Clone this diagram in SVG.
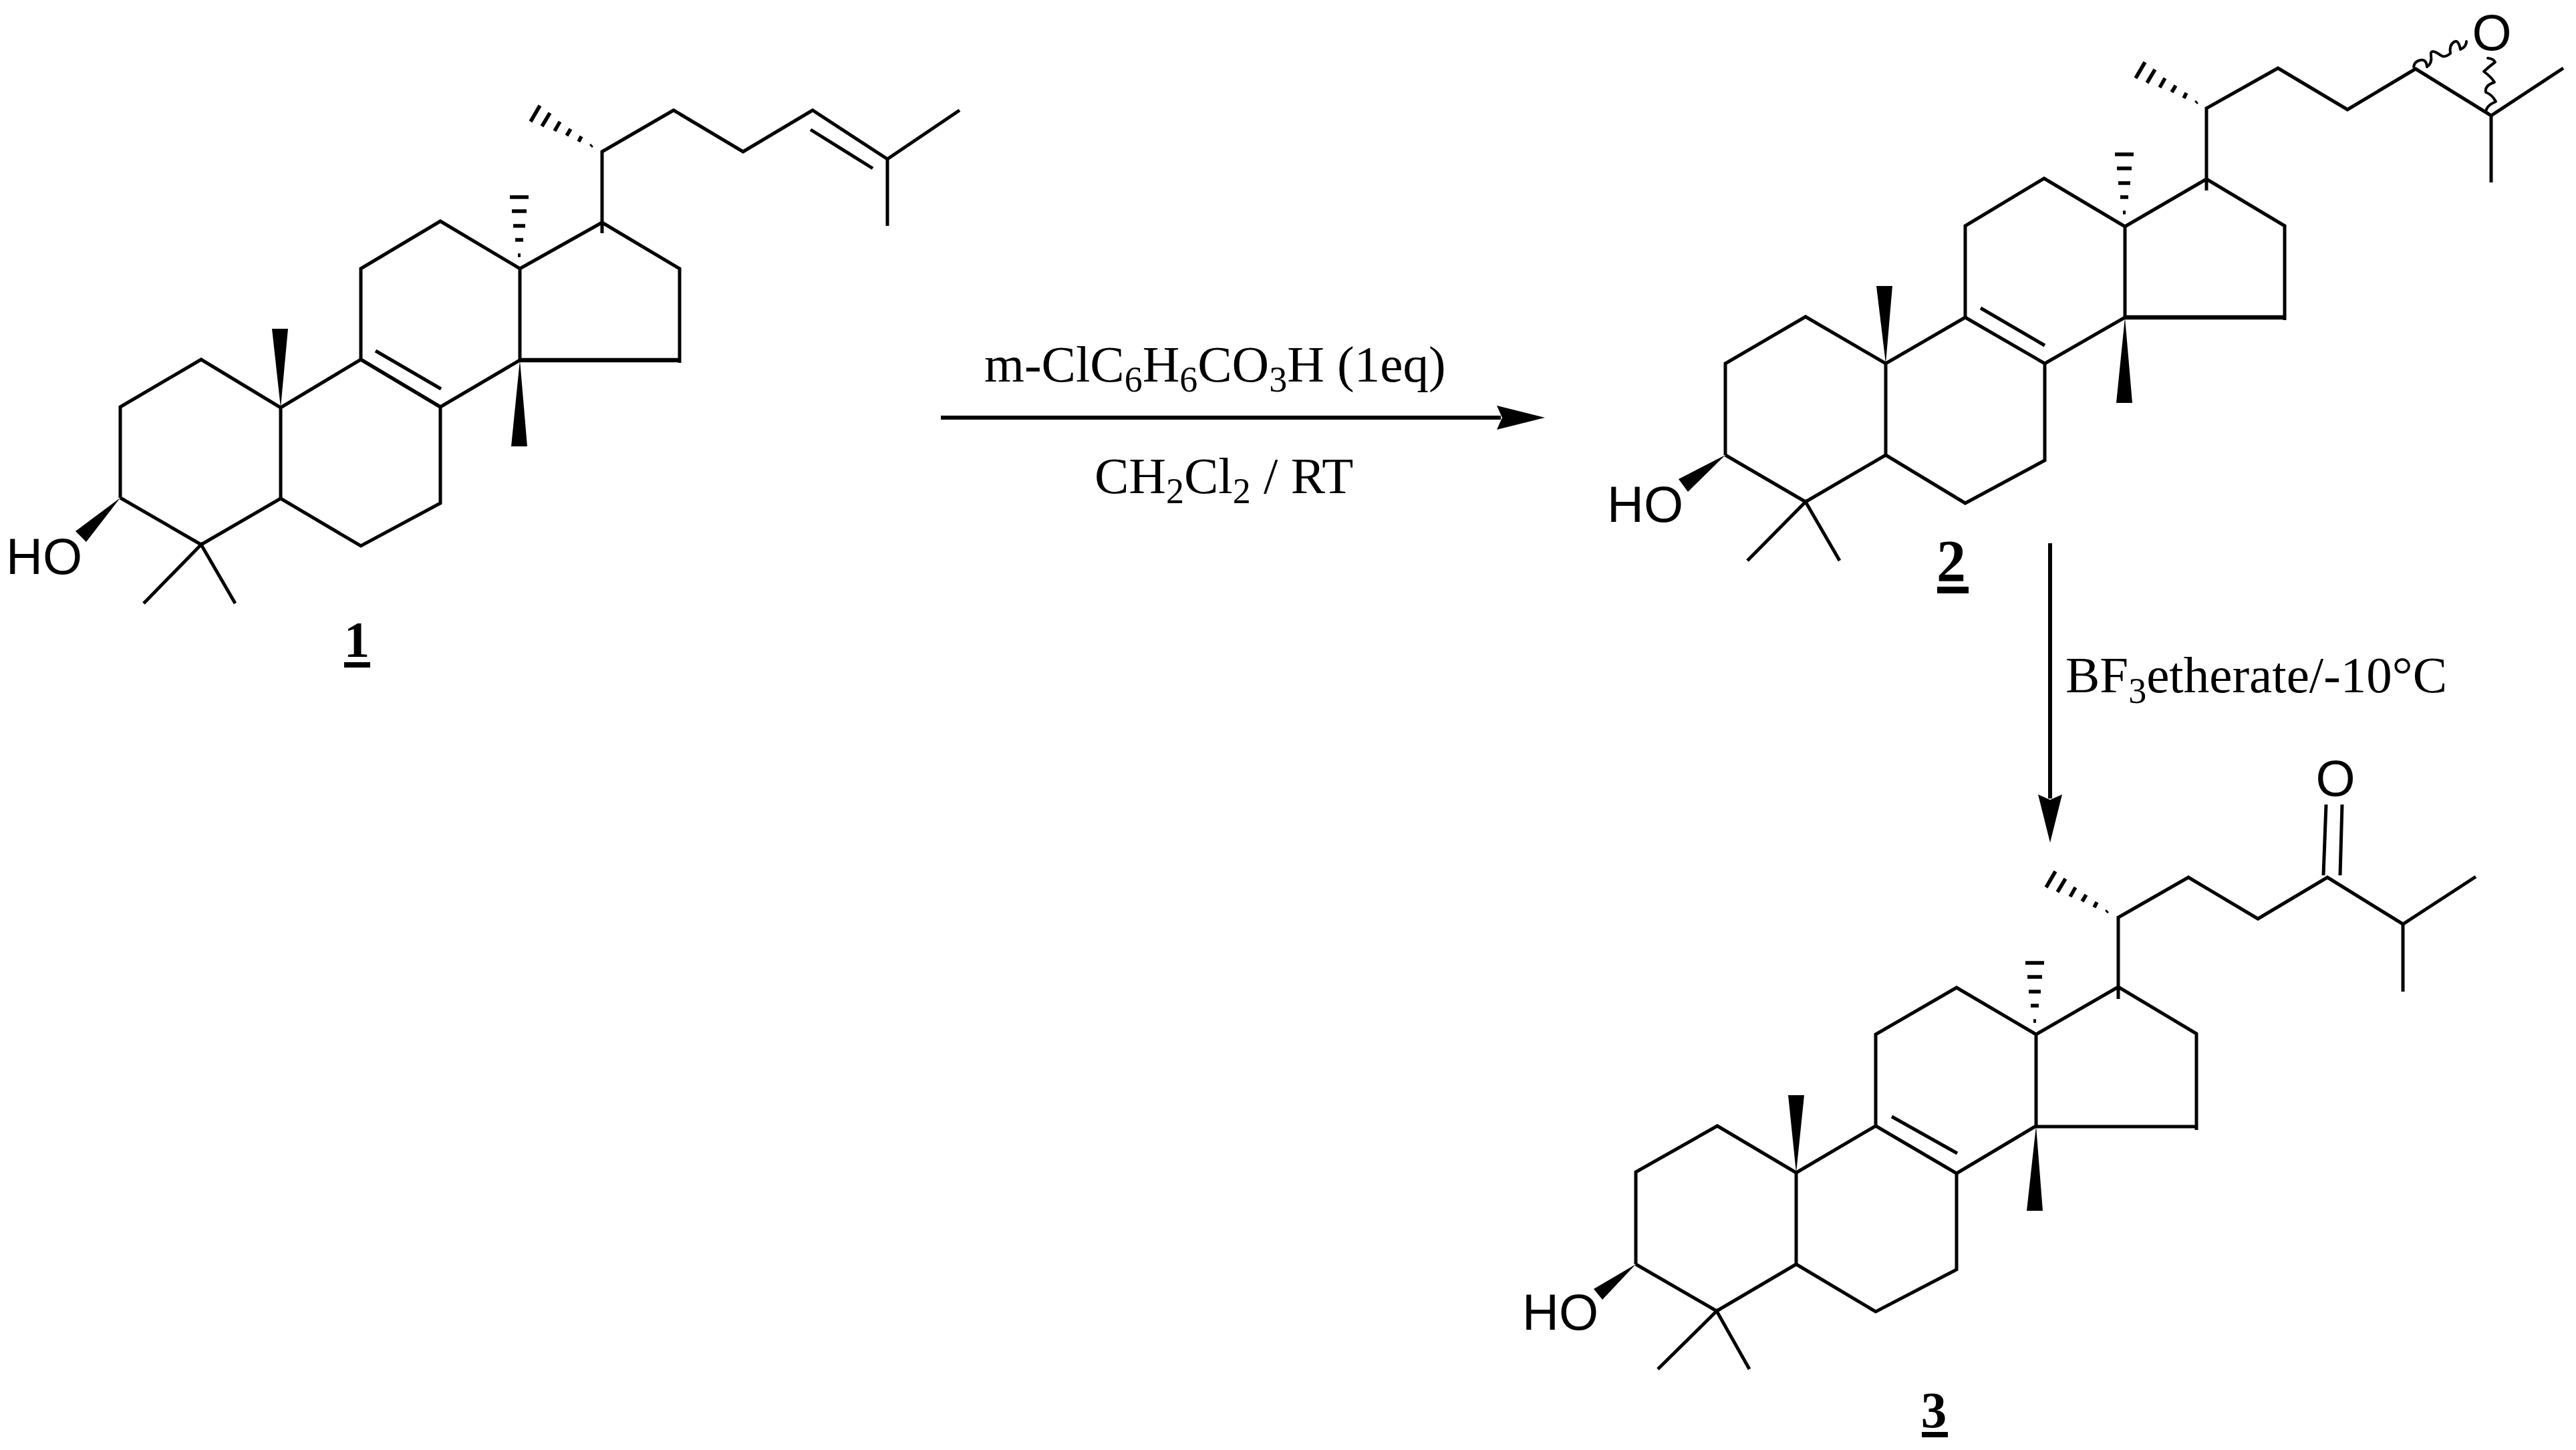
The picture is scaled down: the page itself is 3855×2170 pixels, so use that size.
<svg xmlns="http://www.w3.org/2000/svg" xmlns:xlink="http://www.w3.org/1999/xlink" width="3855" height="2170" viewBox="0 0 3855 2170">
<style>
.b{fill:none;stroke:#000;stroke-width:5;stroke-linejoin:miter;stroke-linecap:butt}
.bh{fill:none;stroke:#000;stroke-width:6.5}
.w{fill:none;stroke:#000;stroke-width:4;stroke-linejoin:round;stroke-linecap:round}
.h{stroke:#000;stroke-width:5.5}
.f{fill:#000;stroke:none}
.a{fill:none;stroke:#000;stroke-width:6}
.ul{stroke:#000;stroke-width:8}
.at{font-family:"Liberation Sans",Arial,sans-serif;font-size:76px;fill:#000}
.t{font-family:"Liberation Serif","Times New Roman",serif;font-size:77px;fill:#000}
.n{font-family:"Liberation Serif","Times New Roman",serif;font-size:77px;font-weight:bold;fill:#000;text-anchor:middle}
.s{font-size:54px}
</style>
<defs>
<marker id="ah" markerUnits="userSpaceOnUse" markerWidth="72" markerHeight="40" refX="6" refY="20" orient="auto" viewBox="0 0 72 40">
<path d="M0,2 L72,20 L0,38 L8,20 Z" fill="#000"/>
</marker>
<g id="hash20">
<path class="h" d="M886,217 L884,219 M870,204 L866,212 M854,193 L848,203 M838,182 L830,196 M823,169 L811,189 M808,158 L794,182"/>
</g>
<g id="hash13">
<path class="h" d="M776,382 H780 M772,359 H784 M769,338 H787 M767,316 H789 M764,295 H792"/>
</g>
</defs>
<rect width="3855" height="2170" fill="#fff"/>

<g id="compound-1">
<polyline class="b" points="180,745 180,609 301,538 420,610 420,746 301,815 180,745"/>
<polyline class="b" points="420,746 540,817 659,753 659,609 540,538 420,610"/>
<polyline class="b" points="540,538 540,402 659,331 778,402 778,539 659,609"/>
<polyline class="b" points="540,538 659,609"/>
<polyline class="b" points="778,402 901,333 1017,402 1017,543"/>
<line class="bh" x1="778" y1="539" x2="1017" y2="539"/>
<polyline class="b" points="901,349 901,227 1008,165 1112,227 1216,165 1328,238 1436,165"/>
<line class="b" x1="1328" y1="238" x2="1328" y2="338"/>
<line class="b" x1="1213" y1="194" x2="1306" y2="252"/>
<line class="b" x1="562" y1="525" x2="660" y2="582"/>
<polyline class="b" points="215,903 301,815 352,903"/>
<polygon class="f" points="420,610 407,492 431,492"/>
<polygon class="f" points="778,539 765,668 789,668"/>
<polygon class="f" points="180,745 113,795 129,811"/>
<use xlink:href="#hash20" href="#hash20"/>
<use xlink:href="#hash13" href="#hash13" x="-1"/>
<text class="at" x="9" y="859">HO</text>
</g>

<g id="compound-2">
<polyline class="b" points="2582,681 2582,544 2702,474 2822,544 2822,681 2702,751 2582,681"/>
<polyline class="b" points="2822,681 2941,753 3060,689 3060,544 2941,475 2822,544"/>
<polyline class="b" points="2941,475 2941,338 3059,267 3180,339 3180,475 3060,544"/>
<polyline class="b" points="3180,339 3302,268 3419,338 3419,479"/>
<line class="bh" x1="3180" y1="475" x2="3419" y2="475"/>
<polyline class="b" points="3302,285 3302,162 3409,102 3513,164 3615,103 3728,173 3836,102"/>
<line class="b" x1="3728" y1="173" x2="3728" y2="273"/>
<line class="b" x1="2964" y1="461" x2="3060" y2="517"/>
<polyline class="b" points="2615,839 2702,751 2753,839"/>
<polygon class="f" points="2822,544 2808,428 2832,428"/>
<polygon class="f" points="3180,475 3167,603 3191,603"/>
<polygon class="f" points="2582,681 2512,717 2526,736"/>
<use xlink:href="#hash20" href="#hash20" x="2402" y="-65"/>
<use xlink:href="#hash13" href="#hash13" x="2401" y="-64"/>
<path class="w" d="M3612,100 Q3613,92 3622,90 T3632,100 Q3640,95 3638,83 T3653,83 Q3658,87 3667,80 Q3665,68 3672,63 T3682,74 Q3691,70 3691,62"/>
<path class="w" d="M3720,167 Q3721,158 3735,152 Q3730,142 3720,138 Q3718,128 3733,123 Q3728,115 3717,107 Q3727,98 3734,93 Q3732,88 3723,87"/>
<text class="at" x="2405" y="781">HO</text>
<text class="at" x="3729" y="75" text-anchor="middle">O</text>
</g>

<g id="compound-3">
<polyline class="b" points="2448,1892 2448,1754 2570,1685 2688,1755 2688,1892 2569,1962 2448,1892"/>
<polyline class="b" points="2688,1892 2807,1963 2928,1900 2928,1756 2807,1685 2688,1755"/>
<polyline class="b" points="2807,1685 2807,1548 2928,1478 3047,1548 3047,1685 2928,1756"/>
<polyline class="b" points="3047,1548 3170,1477 3287,1547 3287,1691"/>
<line class="b" x1="3047" y1="1686" x2="3287" y2="1686"/>
<polyline class="b" points="3170,1495 3170,1373 3275,1313 3379,1375 3483,1313 3596,1383 3705,1312"/>
<line class="b" x1="3596" y1="1383" x2="3596" y2="1484"/>
<line class="b" x1="2831" y1="1671" x2="2929" y2="1726"/>
<polyline class="b" points="2481,2049 2569,1962 2618,2049"/>
<line class="b" x1="3481" y1="1204" x2="3477" y2="1310"/>
<line class="b" x1="3505" y1="1204" x2="3502" y2="1310"/>
<polygon class="f" points="2688,1755 2676,1639 2700,1639"/>
<polygon class="f" points="3047,1685 3033,1812 3057,1812"/>
<polygon class="f" points="2448,1892 2385,1929 2398,1945"/>
<use xlink:href="#hash20" href="#hash20" x="2268" y="1146"/>
<use xlink:href="#hash13" href="#hash13" x="2267" y="1146"/>
<text class="at" x="2278" y="1990">HO</text>
<text class="at" x="3495" y="1191" text-anchor="middle">O</text>
</g>

<g id="label-1"><text class="n" x="534" y="983">1</text><line class="ul" x1="515" y1="995" x2="554" y2="995"/></g>
<g id="label-2"><text class="n" x="2920" y="869" style="font-size:88px">2</text><line class="ul" x1="2899" y1="883" x2="2946" y2="883" style="stroke-width:10"/></g>
<g id="label-3"><text class="n" x="2894" y="2136">3</text><line class="ul" x1="2876" y1="2147" x2="2915" y2="2147"/></g>

<g id="connectors">
<line class="a" x1="1408" y1="625" x2="2246" y2="625" marker-end="url(#ah)"/>
<line class="a" x1="3068" y1="813" x2="3068" y2="1195" marker-end="url(#ah)"/>
</g>

<g id="reagents">
<text class="t" x="1473" y="571">m-ClC<tspan class="s" dy="15">6</tspan><tspan dy="-15">H</tspan><tspan class="s" dy="15">6</tspan><tspan dy="-15">CO</tspan><tspan class="s" dy="15">3</tspan><tspan dy="-15">H (1eq)</tspan></text>
<text class="t" x="1638" y="738">CH<tspan class="s" dy="15">2</tspan><tspan dy="-15">Cl</tspan><tspan class="s" dy="15">2</tspan><tspan dy="-15"> / RT</tspan></text>
<text class="t" x="3091" y="1036">BF<tspan class="s" dy="16">3</tspan><tspan dy="-16">etherate/-10°C</tspan></text>
</g>
</svg>
